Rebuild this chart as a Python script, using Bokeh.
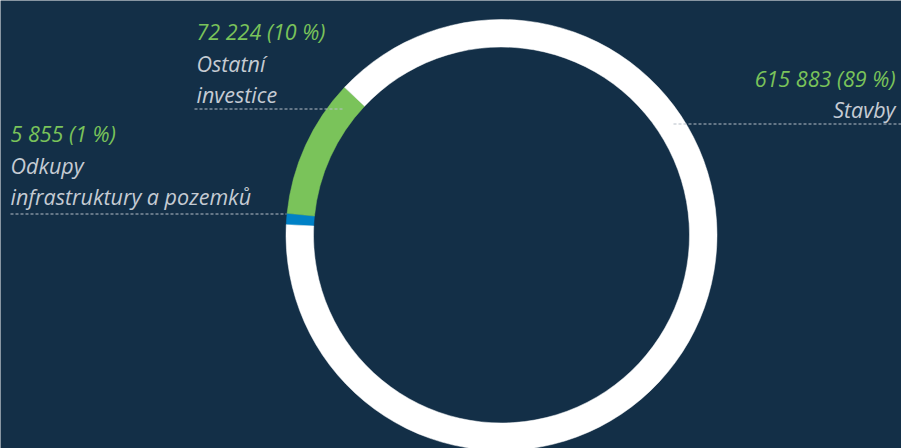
import math
from bokeh.plotting import figure
from bokeh.models import Range1d
from bokeh.core.properties import value
from bokeh.embed import file_html
from bokeh.resources import INLINE

# ---- data ----
categories = ["Odkupy infrastruktury a pozemků", "Ostatní investice", "Stavby"]
name_lines = [["Odkupy", "infrastruktury a pozemků"], ["Ostatní", "investice"], ["Stavby"]]
values = [5855, 72224, 615883]
colors = ["#0081c6", "#7ac35a", "#ffffff"]

# ---- layout / style ----
BG = "#132f47"
VAL_COLOR = "#7ac35a"
NAME_COLOR = "#c5cbd3"
LEADER_COLOR = "#b7bfc8"
W, H = 901, 448
CX, CY = 501, 234.5
R_IN, R_OUT = 188, 215.5
START_DEG = 177.25  # ring starts here and runs clockwise
LINE_GAP = 31.5
FONT = value("Open Sans")
FSIZE = "21.5px"
# label anchors: (x, first baseline, align, leader x0, leader x1, leader y)
anchors = [
    (10, 133, "left", 10, 286, 213.5),
    (196, 31, "left", 194, 342, 108.5),
    (895, 77.5, "right", 673, 901, 123.5),
]


def Y(y):
    return H - y


def fmt(v):
    return f"{v:,}".replace(",", " ")


p = figure(width=W, height=H,
           x_range=Range1d(0, W), y_range=Range1d(0, H),
           x_axis_type=None, y_axis_type=None,
           output_backend="svg", toolbar_location=None,
           min_border=0, background_fill_color=BG, border_fill_color=BG,
           outline_line_color=None)
p.xgrid.visible = False
p.ygrid.visible = False

total = sum(values)
starts, ends = [], []
a = math.radians(START_DEG)
for v in values:
    sweep = 2 * math.pi * v / total
    starts.append(a)
    ends.append(a - sweep)
    a -= sweep

p.annular_wedge(x=CX, y=Y(CY), inner_radius=R_IN, outer_radius=R_OUT,
                start_angle=ends, end_angle=starts, direction="anticlock",
                fill_color=colors, line_color=colors, line_width=0.5)

# leader lines
p.segment(x0=[an[3] for an in anchors], x1=[an[4] for an in anchors],
          y0=[Y(an[5]) for an in anchors], y1=[Y(an[5]) for an in anchors],
          line_color=LEADER_COLOR, line_width=1, line_dash="3 2")

for v, lines, an in zip(values, name_lines, anchors):
    x, b, align = an[0], an[1], an[2]
    pct = round(v / total * 100)
    p.text(x=[x], y=[Y(b)], text=[f"{fmt(v)} ({pct} %)"],
           text_font=FONT, text_font_style="italic", text_font_size=FSIZE,
           text_color=VAL_COLOR, text_align=align, text_baseline="alphabetic")
    for i, ln in enumerate(lines):
        p.text(x=[x], y=[Y(b + LINE_GAP * (i + 1))], text=[ln],
               text_font=FONT, text_font_style="italic", text_font_size=FSIZE,
               text_color=NAME_COLOR, text_align=align, text_baseline="alphabetic")

open("out.html", "w").write(file_html(p, INLINE))
